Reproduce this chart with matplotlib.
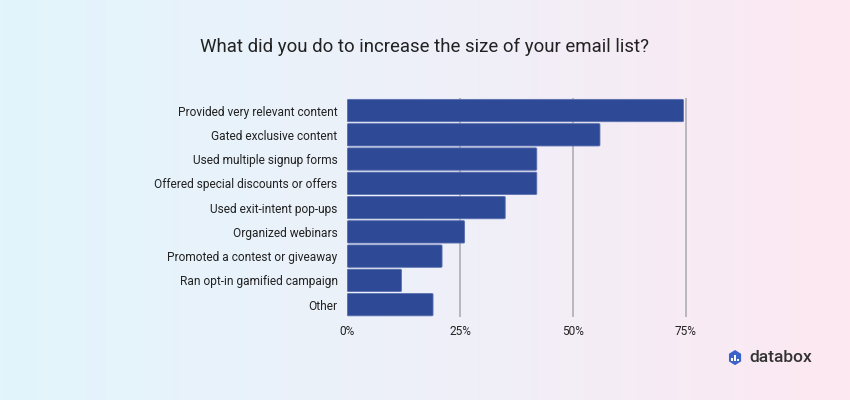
import numpy as np
import matplotlib
matplotlib.use('Agg')
import matplotlib.pyplot as plt
from matplotlib.patches import FancyBboxPatch, RegularPolygon
from matplotlib.colors import LinearSegmentedColormap

# Podaci sa grafika
kategorije = ['Provided very relevant content', 'Gated exclusive content',
              'Used multiple signup forms', 'Offered special discounts or offers',
              'Used exit-intent pop-ups', 'Organized webinars',
              'Promoted a contest or giveaway', 'Ran opt-in gamified campaign', 'Other']
vrednosti = [74.5, 56, 42, 42, 35, 26, 21, 12, 19]
tickovi = [0, 25, 50, 75]
tick_labele = ['0%', '25%', '50%', '75%']
naslov = 'What did you do to increase the size of your email list?'

plt.rcParams['font.family'] = ['Roboto', 'DejaVu Sans']
BAR = '#2E4A96'

fig = plt.figure(figsize=(8.5, 4), dpi=100)

# pozadina: gradijent plavo -> roze
bg = fig.add_axes([0, 0, 1, 1], zorder=-10)
cmap = LinearSegmentedColormap.from_list('bg', ['#E2F5FC', '#EEF0F9', '#FDE8F1'])
bg.imshow(np.linspace(0, 1, 256)[None, :], aspect='auto', cmap=cmap,
          extent=[0, 1, 0, 1])
bg.axis('off')

ax = fig.add_axes([0.4086, 0.208, 0.414, 0.546])
ax.set_facecolor('none')
y = np.arange(len(kategorije))
h = 0.92
for yi, v in zip(y, vrednosti):
    ax.add_patch(FancyBboxPatch((0, yi - h / 2), v, h,
                                boxstyle='round,pad=0,rounding_size=0.3',
                                mutation_aspect=1 / 8,
                                fc=BAR, ec='#5A70B0', lw=0.6, zorder=3))
ax.set_xlim(0, 78)
ax.set_ylim(len(kategorije) - 0.5, -0.5)
for t in tickovi[1:]:
    ax.axvline(t, color='#B4B2BA', lw=1.3, zorder=1)
ax.set_xticks(tickovi)
ax.set_xticklabels(tick_labele)
ax.set_yticks(y)
ax.set_yticklabels(kategorije)
ax.tick_params(length=0, labelsize=8.6, colors='#222222')
ax.tick_params(axis='y', pad=7)
ax.tick_params(axis='x', pad=6)
for s in ax.spines.values():
    s.set_visible(False)

fig.text(0.5, 0.882, naslov, ha='center', va='center', fontsize=13.4, color='#222222')

# databox logo
logo = fig.add_axes([0.8565, 0.087, 0.0165, 0.038])
logo.set_xlim(-1, 1)
logo.set_ylim(-1, 1)
logo.add_patch(RegularPolygon((0, 0), 6, radius=1.0, orientation=0, fc='#3B63C9', ec='none'))
for bx, bh in [(-0.4, 0.5), (0.0, 0.9), (0.4, 0.35)]:
    logo.add_patch(plt.Rectangle((bx - 0.12, -0.5), 0.24, bh, fc='white', ec='none'))
logo.axis('off')
fig.text(0.882, 0.105, 'databox', ha='left', va='center', fontsize=12.5,
         fontweight='medium', color='#333333')

fig.savefig('out.png', dpi=100)
